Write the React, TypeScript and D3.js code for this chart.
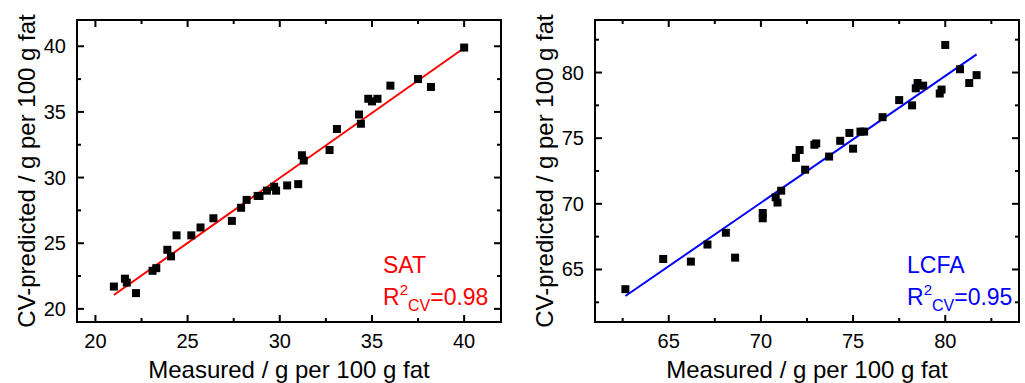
import * as d3 from "d3";

// SAT panel
const satMeasured = [
  21.0, 21.6, 21.7, 22.2, 23.1, 23.3, 23.9, 24.1, 24.4, 25.2, 25.7, 26.4, 27.4,
  27.9, 28.2, 28.8, 28.9, 29.3, 29.7, 29.8, 30.4, 31.0, 31.2, 31.3, 32.7, 33.1,
  34.3, 34.4, 34.8, 35.0, 35.3, 36.0, 37.5, 38.2, 40.0,
];
const satPredicted = [
  21.7, 22.3, 22.0, 21.2, 22.9, 23.1, 24.5, 24.0, 25.6, 25.6, 26.2, 26.9, 26.7,
  27.7, 28.3, 28.6, 28.6, 29.0, 29.3, 29.0, 29.4, 29.5, 31.7, 31.3, 32.1, 33.7,
  34.8, 34.1, 36.0, 35.8, 36.0, 37.0, 37.5, 36.9, 39.9,
];
const satFit = [0.99, 0.27]; // slope, intercept
const satTicks = [20, 25, 30, 35, 40];

// LCFA panel
const lcfaMeasured = [
  62.65, 64.7, 66.2, 67.1, 68.1, 68.6, 70.1, 70.1, 70.8, 70.9, 71.1, 71.9, 72.1,
  72.4, 72.9, 73.0, 73.7, 74.3, 74.8, 75.0, 75.4, 75.6, 76.6, 77.5, 78.2, 78.5,
  78.4, 78.8, 79.7, 79.8, 80.0, 80.8, 81.3, 81.7,
];
const lcfaPredicted = [
  63.5, 65.8, 65.6, 66.9, 67.8, 65.9, 69.3, 68.9, 70.5, 70.1, 71.0, 73.5, 74.1,
  72.6, 74.5, 74.6, 73.6, 74.8, 75.4, 74.2, 75.5, 75.5, 76.6, 77.9, 77.5, 79.2,
  78.8, 79.0, 78.4, 78.7, 82.1, 80.25, 79.2, 79.8,
];
const lcfaFit = [0.966, 2.46];
const lcfaTicks = [65, 70, 75, 80];

const width = 1025;
const height = 383;
const frameTop = 20;
const frameBottom = 322;
const font = "'Liberation Sans', Arial, sans-serif";

type PanelProps = {
  left: number;
  right: number;
  domain: [number, number];
  ticks: number[];
  xs: number[];
  ys: number[];
  fit: number[];
  color: string;
  name: string;
  r2: string;
  labelX: number;
};

function Panel({ left, right, domain, ticks, xs, ys, fit, color, name, r2, labelX }: PanelProps) {
  const x = d3.scaleLinear().domain(domain).range([left, right]);
  const y = d3.scaleLinear().domain(domain).range([frameBottom, frameTop]);

  // every 2.5 units a tick, the ones on multiples of 5 are long
  const allTicks = d3
    .range(Math.ceil(domain[0] / 2.5) * 2.5, domain[1], 2.5)
    .filter((v) => v > domain[0] && v < domain[1]);
  const tickLen = (v: number) => (v % 5 === 0 ? 7 : 4);

  const x0 = d3.min(xs) ?? domain[0];
  const x1 = d3.max(xs) ?? domain[1];
  const line = d3
    .line<number>()
    .x((d) => x(d))
    .y((d) => y(fit[0] * d + fit[1]));

  const ink = "#000";

  return (
    <g>
      {/* ticks on all four sides, pointing in */}
      {allTicks.map((v) => (
        <g key={v} stroke={ink} strokeWidth={2}>
          <line x1={x(v)} x2={x(v)} y1={frameBottom} y2={frameBottom - tickLen(v)} />
          <line x1={x(v)} x2={x(v)} y1={frameTop} y2={frameTop + tickLen(v)} />
          <line x1={left} x2={left + tickLen(v)} y1={y(v)} y2={y(v)} />
          <line x1={right} x2={right - tickLen(v)} y1={y(v)} y2={y(v)} />
        </g>
      ))}

      {ticks.map((v) => (
        <text
          key={"x" + v}
          x={x(v)}
          y={frameBottom + 26}
          textAnchor="middle"
          fontSize={20}
          fill={ink}
        >
          {v}
        </text>
      ))}
      {ticks.map((v) => (
        <text
          key={"y" + v}
          x={left - 11}
          y={y(v) + 7}
          textAnchor="end"
          fontSize={20}
          fill={ink}
        >
          {v}
        </text>
      ))}

      <path d={line([x0, x1]) ?? ""} fill="none" stroke={color} strokeWidth={2} />

      {xs.map((d, i) => (
        <rect key={i} x={x(d) - 4} y={y(ys[i]) - 4} width={8} height={8} fill={ink} />
      ))}

      <rect
        x={left}
        y={frameTop}
        width={right - left}
        height={frameBottom - frameTop}
        fill="none"
        stroke={ink}
        strokeWidth={2}
      />

      <text x={(left + right) / 2} y={378} textAnchor="middle" fontSize={24} fill={ink}>
        Measured / g per 100 g fat
      </text>
      <text
        transform={`translate(${left - 42}, ${(frameTop + frameBottom) / 2}) rotate(-90)`}
        textAnchor="middle"
        fontSize={24}
        fill={ink}
      >
        CV-predicted / g per 100 g fat
      </text>

      <text x={labelX} y={273} fontSize={23} fill={color}>
        {name}
      </text>
      <text x={labelX} y={305} fontSize={23} fill={color}>
        R
        <tspan fontSize={15} dy={-10}>
          2
        </tspan>
        <tspan fontSize={16} dy={16}>
          CV
        </tspan>
        <tspan dy={-6}>={r2}</tspan>
      </text>
    </g>
  );
}

export default function App() {
  return (
    <svg
      width={width}
      height={height}
      style={{ position: "absolute", left: 0, top: 0, display: "block", background: "#fff" }}
      fontFamily={font}
    >
      <rect width={width} height={height} fill="#fff" />
      <Panel
        left={77}
        right={501}
        domain={[19, 42]}
        ticks={satTicks}
        xs={satMeasured}
        ys={satPredicted}
        fit={satFit}
        color="#ff0000"
        name="SAT"
        r2="0.98"
        labelX={383}
      />
      <Panel
        left={595}
        right={1019}
        domain={[61, 84]}
        ticks={lcfaTicks}
        xs={lcfaMeasured}
        ys={lcfaPredicted}
        fit={lcfaFit}
        color="#0000ff"
        name="LCFA"
        r2="0.95"
        labelX={907}
      />
    </svg>
  );
}
